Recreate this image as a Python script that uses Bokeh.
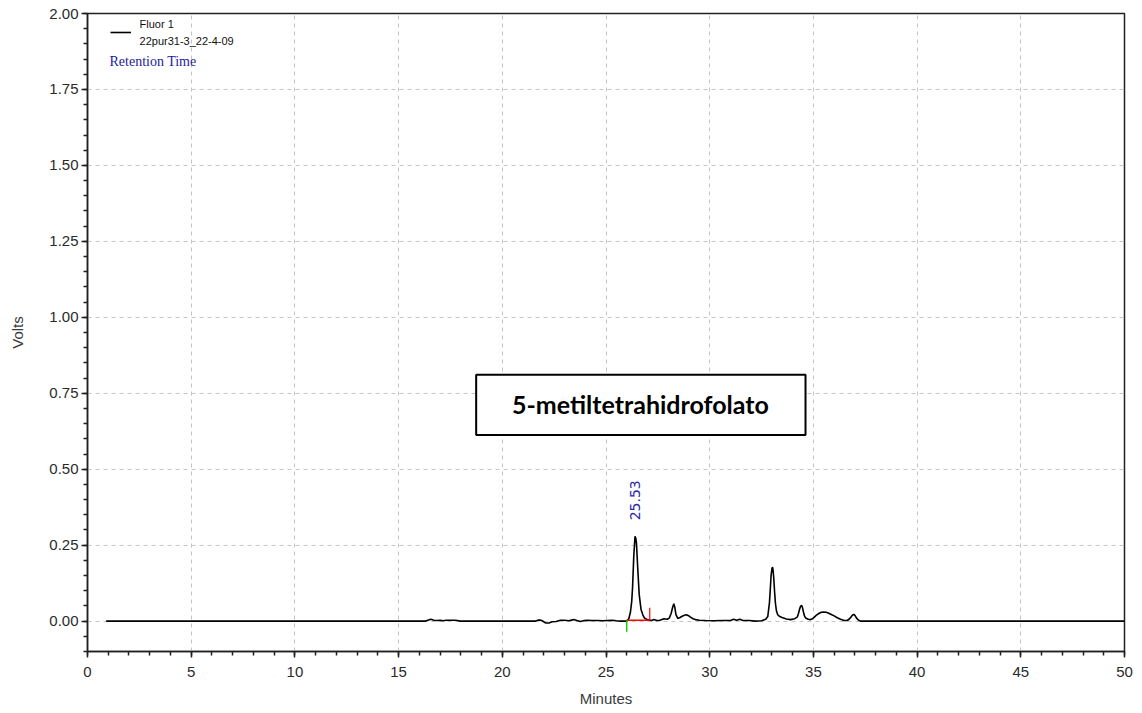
import math

from bokeh.embed import file_html
from bokeh.models import (BoxAnnotation, FixedTicker, Label, Legend, LegendItem,
                          PrintfTickFormatter, Range1d)
from bokeh.plotting import figure
from bokeh.resources import INLINE

# Fluorescence detector trace (minutes, volts)
time_min = [0.9, 16.3, 16.45, 16.55, 16.7, 16.85, 17.0, 17.15, 17.3, 17.5, 17.7, 17.85, 17.95,
            21.6, 21.76, 21.9, 22.08, 22.25, 22.4, 22.6, 22.8, 23.0, 23.2, 23.45, 23.6, 23.77,
            23.95, 24.09, 24.3, 24.6, 24.85, 25.06, 25.3, 25.5, 25.7, 25.99,
            26.1, 26.18, 26.24, 26.28, 26.34, 26.40, 26.44, 26.47, 26.53, 26.60, 26.69, 26.78,
            26.85, 26.95, 27.06, 27.2, 27.31, 27.45, 27.6, 27.79, 27.95, 28.05, 28.14, 28.21,
            28.27, 28.32, 28.37, 28.46, 28.57, 28.67, 28.78, 28.88, 28.98, 29.07, 29.2, 29.31,
            29.5, 29.8, 30.2, 30.6, 31.0, 31.15, 31.3, 31.45, 31.6, 31.9, 32.2, 32.5, 32.7,
            32.8, 32.88, 32.93, 32.96, 33.0, 33.03, 33.06, 33.09, 33.13, 33.17, 33.22, 33.28,
            33.38, 33.49, 33.7, 33.9, 34.1, 34.22, 34.28, 34.33, 34.38, 34.43, 34.48, 34.52,
            34.57, 34.63, 34.75, 34.86, 34.96, 35.05, 35.15, 35.26, 35.38, 35.5, 35.62, 35.74,
            35.86, 35.98, 36.15, 36.31, 36.48, 36.63, 36.73, 36.82, 36.9, 36.95, 37.01, 37.08,
            37.18, 37.27, 50.0]
volts = [0.0, 0.0, 0.004, 0.006, 0.003, 0.002, 0.003, 0.001, 0.003, 0.003, 0.003, 0.002, 0.0,
         0.0, 0.004, 0.002, -0.006, -0.006, -0.002, -0.001, 0.003, 0.003, 0.001, 0.005, 0.002,
         -0.001, 0.002, 0.003, 0.002, 0.002, 0.001, 0.002, 0.003, 0.001, 0.0, 0.0,
         0.008, 0.030, 0.065, 0.110, 0.215, 0.279, 0.272, 0.255, 0.175, 0.088, 0.038, 0.020,
         0.011, 0.006, 0.004, 0.002, 0.005, 0.002, 0.003, 0.008, 0.006, 0.010, 0.025, 0.045,
         0.057, 0.045, 0.022, 0.009, 0.012, 0.016, 0.019, 0.021, 0.018, 0.013, 0.008, 0.005,
         0.003, 0.002, 0.001, 0.002, 0.002, 0.006, 0.003, 0.006, 0.002, 0.002, 0.000, 0.001, 0.006,
         0.015, 0.060, 0.115, 0.150, 0.172, 0.178, 0.165, 0.140, 0.095, 0.058, 0.033, 0.021,
         0.015, 0.012, 0.007, 0.005, 0.008, 0.013, 0.025, 0.038, 0.049, 0.052, 0.043, 0.030,
         0.017, 0.010, 0.006, 0.005, 0.008, 0.013, 0.020, 0.025, 0.029, 0.030, 0.029, 0.026,
         0.022, 0.018, 0.011, 0.006, 0.002, 0.002, 0.007, 0.014, 0.021, 0.022, 0.018, 0.010,
         0.003, 0.0, 0.0]

# Integration events of the labelled peak
peak_label = "25.53"
peak_start = 26.0
peak_end = 27.11
peak_baseline = 0.003
start_mark_low = -0.035
end_mark_high = 0.044

# Axis ticks
x_major = [0, 5, 10, 15, 20, 25, 30, 35, 40, 45, 50]
x_minor = list(range(0, 51))
y_major = [0.0, 0.25, 0.5, 0.75, 1.0, 1.25, 1.5, 1.75, 2.0]
y_minor = [round(-0.10 + 0.05 * i, 2) for i in range(43)]

compound_name = "5-metiltetrahidrofolato"
channel_name = "Fluor 1"
sample_name = "22pur31-3_22-4-09"
method_name = "Retention Time"

tick_font = "Liberation Sans"

p = figure(width=1142, height=713, frame_width=1037, frame_height=638,
           min_border_left=87, min_border_right=18, min_border_top=13, min_border_bottom=62,
           x_range=Range1d(0, 50), y_range=Range1d(-0.10, 2.00),
           output_backend="svg", toolbar_location=None,
           x_axis_label="Minutes", y_axis_label="Volts")
p.background_fill_color = "white"
p.border_fill_color = "white"
p.outline_line_color = "#202020"
p.outline_line_width = 1.5

p.xaxis.ticker = FixedTicker(ticks=x_major, minor_ticks=x_minor)
p.yaxis.ticker = FixedTicker(ticks=y_major, minor_ticks=y_minor)
p.yaxis.formatter = PrintfTickFormatter(format="%.2f")

for ax in (p.xaxis[0], p.yaxis[0]):
    ax.axis_line_color = "#202020"
    ax.axis_line_width = 1.5
    ax.major_tick_line_color = "#202020"
    ax.minor_tick_line_color = "#202020"
    ax.major_tick_line_width = 1.5
    ax.minor_tick_line_width = 1.5
    ax.major_tick_in = 0
    ax.minor_tick_in = 0
    ax.major_tick_out = 6
    ax.minor_tick_out = 4
    ax.major_label_text_font = tick_font
    ax.major_label_text_font_size = "15px"
    ax.major_label_text_color = "#2a2a2a"
    ax.axis_label_text_font = tick_font
    ax.axis_label_text_font_size = "15px"
    ax.axis_label_text_font_style = "normal"
    ax.axis_label_text_color = "#3a3a3a"
p.xaxis.major_label_standoff = 9
p.xaxis.axis_label_standoff = 10
p.yaxis.major_label_standoff = 3
p.yaxis.axis_label_standoff = 20

for g in (p.xgrid[0], p.ygrid[0]):
    g.grid_line_color = "#c4c4c4"
    g.grid_line_dash = "4 4"
    g.grid_line_width = 1

trace = p.line(time_min, volts, line_color="black", line_width=1.6)

# integration baseline and peak start / end markers
p.segment(x0=[peak_start], y0=[peak_baseline], x1=[peak_end], y1=[peak_baseline],
          line_color="red", line_width=1.4)
p.segment(x0=[peak_end], y0=[peak_baseline], x1=[peak_end], y1=[end_mark_high],
          line_color="red", line_width=1.2)
p.segment(x0=[peak_start], y0=[peak_baseline], x1=[peak_start], y1=[start_mark_low],
          line_color="#00d000", line_width=1.4)

# retention time label above the apex
apex = max(range(len(volts)), key=lambda i: volts[i])
p.add_layout(Label(x=time_min[apex], y=volts[apex], text=peak_label, angle=math.pi / 2,
                   text_align="left", text_baseline="middle", y_offset=16, x_offset=0,
                   text_font="DejaVu Sans", text_font_size="14px",
                   text_color="#2b2ba8"))

# compound name box
p.add_layout(BoxAnnotation(left=18.74, right=34.62, bottom=0.613, top=0.811,
                           fill_color="white", fill_alpha=1.0,
                           line_color="black", line_alpha=1.0, line_width=2))
p.add_layout(Label(x=26.66, y=0.715, text=compound_name, text_align="center",
                   text_baseline="middle", text_font="Lato",
                   text_font_style="bold", text_font_size="25px", text_color="black"))

# trace key: line swatch, channel name above and sample name below its centre
legend = Legend(items=[LegendItem(label=" ", renderers=[trace])],
                location=(23, 609), margin=0, padding=0, spacing=0,
                glyph_width=21, glyph_height=20, label_standoff=0,
                border_line_color=None, background_fill_alpha=0,
                label_text_font="Liberation Sans", label_text_font_size="11px")
p.add_layout(legend)

p.add_layout(Label(x=2.51, y=1.967, text=channel_name, text_align="left",
                   text_baseline="middle", text_font="Liberation Sans",
                   text_font_size="11px", text_color="#111111"))
p.add_layout(Label(x=2.51, y=1.908, text=sample_name, text_align="left",
                   text_baseline="middle", text_font="Liberation Sans",
                   text_font_size="11px", text_color="#111111"))
p.add_layout(Label(x=1.06, y=1.842, text=method_name, text_align="left",
                   text_baseline="middle", text_font="Liberation Serif",
                   text_font_size="14px", text_color="#1c1c9c"))

open("out.html", "w").write(file_html(p, INLINE))
